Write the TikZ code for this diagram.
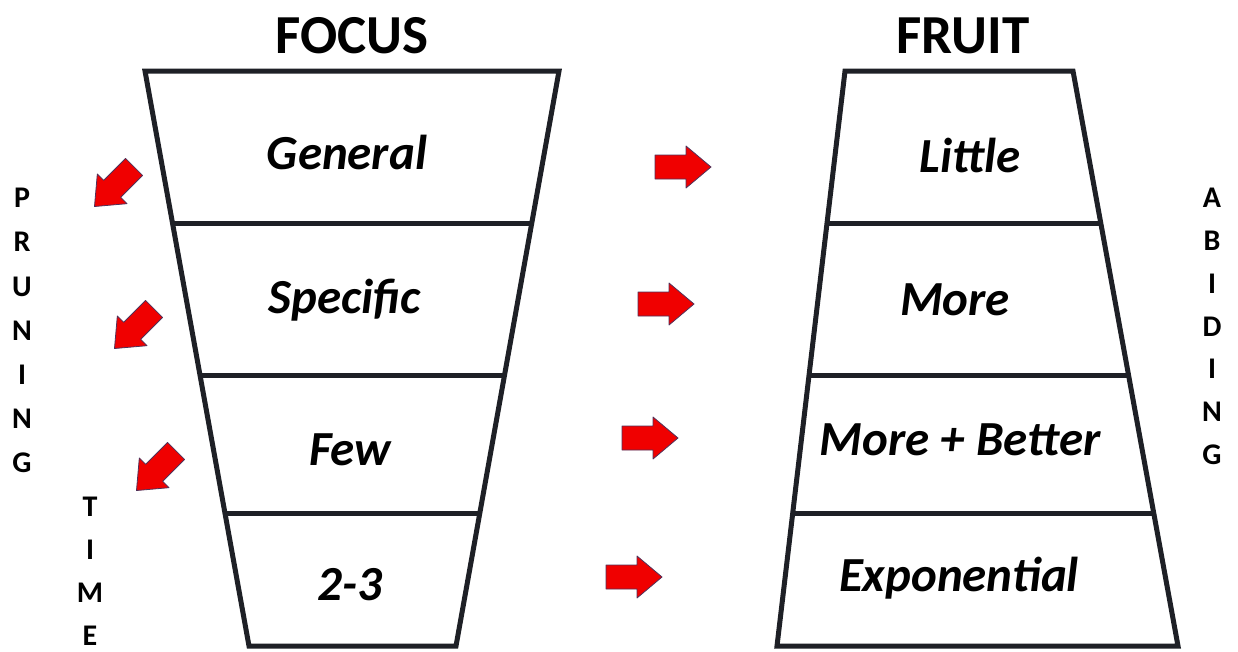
\documentclass[tikz,border=0pt]{standalone}
\usepackage{fontspec}
\setmainfont{Carlito}
\usetikzlibrary{calc}
\definecolor{edge}{RGB}{30,32,38}
\definecolor{arrred}{RGB}{240,0,0}
\definecolor{arredge}{RGB}{80,50,90}
\tikzset{
  trap/.style={draw=edge, line width=5pt, line join=miter},
  divider/.style={draw=edge, line width=5pt},
  boxtext/.style={font=\fontsize{49}{52}\selectfont\bfseries\itshape, inner sep=0pt},
  titletext/.style={font=\fontsize{55}{58}\selectfont\bfseries, inner sep=0pt},
  letter/.style={font=\fontsize{30}{32}\selectfont\bfseries, inner sep=0pt},
  blockarrow/.pic={\path[fill=arrred, draw=arredge, line width=0.8pt, line join=round]
     (-27,-12) -- (4,-12) -- (4,-21) -- (29,0) -- (4,21) -- (4,12) -- (-27,12) -- cycle;}
}
\begin{document}
\begin{tikzpicture}[x=1pt,y=1pt]
\useasboundingbox (0,0) rectangle (1238,-651);
\fill[white] (0,0) rectangle (1238,-651);

% titles
\node[titletext] (focus) at (352,-36) {FOCUS};
\node[titletext] (fruit) at (963,-36) {FRUIT};

% left trapezoid
\coordinate (LTL) at (145,-71);
\coordinate (LTR) at (559,-71);
\coordinate (LBR) at (456,-646);
\coordinate (LBL) at (249,-646);
\path[trap] (LTL) -- (LTR) -- (LBR) -- (LBL) -- cycle;
\foreach \t in {0.266,0.530,0.770}
  \draw[divider] ($(LTL)!\t!(LBL)$) -- ($(LTR)!\t!(LBR)$);

% right trapezoid
\coordinate (RTL) at (845,-71);
\coordinate (RTR) at (1073,-71);
\coordinate (RBR) at (1178,-646);
\coordinate (RBL) at (777,-646);
\path[trap] (RTL) -- (RTR) -- (RBR) -- (RBL) -- cycle;
\foreach \t in {0.266,0.530,0.770}
  \draw[divider] ($(RTL)!\t!(RBL)$) -- ($(RTR)!\t!(RBR)$);

% box texts
\node[boxtext] (general)  at (347,-152) {General};
\node[boxtext] (specific) at (345,-300) {Specific};
\node[boxtext] (few)      at (350,-450) {Few};
\node[boxtext] (twothree) at (350,-585) {2-3};
\node[boxtext] (little)   at (970,-155) {Little};
\node[boxtext] (more)     at (955,-300) {More};
\node[boxtext] (better)   at (960,-440) {More + Better};
\node[boxtext] (expo)     at (959,-578) {Exponential};

% red arrows
\pic (ra1) at (682,-167) {blockarrow};
\pic (ra2) at (665,-304) {blockarrow};
\pic (ra3) at (649,-438) {blockarrow};
\pic (ra4) at (633,-577) {blockarrow};
\pic[rotate=225] (da1) at (115,-186) {blockarrow};
\pic[rotate=225] (da2) at (135,-328) {blockarrow};
\pic[rotate=225] (da3) at (157,-470) {blockarrow};

% vertical words
\foreach \l [count=\i] in {P,R,U,N,I,N,G}
  \node[letter] (prun\i) at (22,{-198-44.2*(\i-1)}) {\l};
\foreach \l [count=\i] in {A,B,I,D,I,N,G}
  \node[letter] (abid\i) at (1212,{-198-42.8*(\i-1)}) {\l};
\foreach \l [count=\i] in {T,I,M,E}
  \node[letter] (time\i) at (90,{-507-43*(\i-1)}) {\l};
\end{tikzpicture}
\end{document}
